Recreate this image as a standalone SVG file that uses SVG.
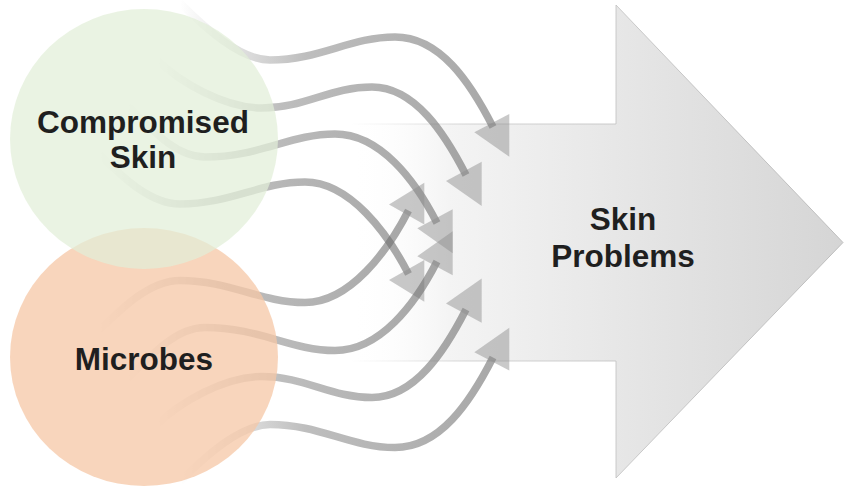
<svg xmlns="http://www.w3.org/2000/svg" width="844" height="486" viewBox="0 0 844 486">
  <style>
    .lbl { font-family: "Liberation Sans", Arial, sans-serif; font-weight: bold; font-size: 31.5px; fill: #1f1f1f; text-anchor: middle; }
    .curve { fill: none; stroke: url(#curveGrad); stroke-width: 7.5; stroke-linecap: butt; }
    .head { fill: #8e8e8e; fill-opacity: 0.48; }
  </style>
  <defs>
    <linearGradient id="bigGrad" gradientUnits="userSpaceOnUse" x1="350" y1="0" x2="843" y2="0">
      <stop offset="0" stop-color="#ffffff" stop-opacity="0"/>
      <stop offset="0.2" stop-color="#f4f4f4" stop-opacity="1"/>
      <stop offset="1" stop-color="#d5d5d5" stop-opacity="1"/>
    </linearGradient>
    <linearGradient id="edgeGrad" gradientUnits="userSpaceOnUse" x1="350" y1="0" x2="843" y2="0">
      <stop offset="0" stop-color="#c8c8c8" stop-opacity="0"/>
      <stop offset="0.25" stop-color="#c8c8c8" stop-opacity="0.8"/>
      <stop offset="1" stop-color="#b8b8b8" stop-opacity="0.9"/>
    </linearGradient>
    <linearGradient id="curveGrad" x1="0" y1="0" x2="1" y2="0">
      <stop offset="0" stop-color="#6e6e6e" stop-opacity="0"/>
      <stop offset="0.4" stop-color="#6e6e6e" stop-opacity="0.45"/>
      <stop offset="1" stop-color="#6e6e6e" stop-opacity="0.6"/>
    </linearGradient>
    <g id="halfCurves">
      <path class="curve" d="M180,3 C205,28 240,60 270,60 C320,60 350,37 395,37 C440,37 470,82 493,127"/>
      <path class="curve" d="M155,58 C180,83 225,108 262,108 C305,108 330,87 372,87 C415,87 445,134 466,175"/>
      <path class="curve" d="M125,103 C150,128 175,157 205,157 C260,157 290,134 335,134 C380,134 415,180 437,223"/>
      <path class="curve" d="M97,152 C122,177 150,204 180,204 C230,204 260,182 305,182 C350,182 388,234 408.5,274"/>
      <polygon class="head" points="509.3,114 474.3,132.3 509.3,156.7"/>
      <polygon class="head" points="481.7,161.7 446,181 481.7,206"/>
      <polygon class="head" points="452.7,209.3 417.3,228.3 452.7,253.3"/>
      <polygon class="head" points="424.3,260 389,280 424.3,301.7"/>
    </g>
  </defs>

  <g id="skin-problems">
    <path d="M350,124 L616,124 L616,5 L843,242.5 L616,478 L616,361 L350,361 Z" fill="url(#bigGrad)"/>
    <path d="M350,124 L616,124 L616,5 L843,242.5 L616,478 L616,361 L350,361" fill="none" stroke="url(#edgeGrad)" stroke-width="1"/>
    <text class="lbl" x="623" y="230">Skin</text>
    <text class="lbl" x="623" y="267">Problems</text>
  </g>

  <g id="connectors">
    <use href="#halfCurves"/>
    <use href="#halfCurves" transform="matrix(1,0,0,-1,0,484.5)"/>
  </g>

  <g id="microbes">
    <ellipse cx="144" cy="357" rx="134" ry="129" fill="#f6c7a6" fill-opacity="0.75"/>
  </g>
  <g id="compromised-skin">
    <ellipse cx="144" cy="139" rx="134" ry="130" fill="#e2eed8" fill-opacity="0.72"/>
  </g>
  <g id="labels">
    <text class="lbl" x="143" y="133">Compromised</text>
    <text class="lbl" x="143" y="168">Skin</text>
    <text class="lbl" x="144" y="370">Microbes</text>
  </g>
</svg>
